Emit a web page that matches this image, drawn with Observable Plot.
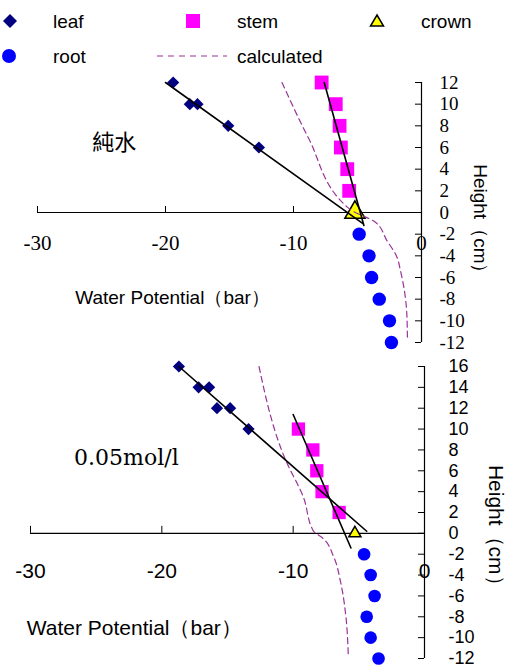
<!DOCTYPE html>
<html><head><meta charset="utf-8">
<script src="https://cdn.jsdelivr.net/npm/d3@7"></script>
<script src="https://cdn.jsdelivr.net/npm/@observablehq/plot@0.6"></script>
<style>
body{margin:0;background:#fff;width:512px;height:670px;position:relative;overflow:hidden;font-family:"Liberation Sans",Arial,sans-serif;}
#legend{position:absolute;left:0;top:0;}
#top{position:absolute;left:0;top:70px;}
#bot{position:absolute;left:0;top:350px;}
</style></head><body>
<div id="legend"></div><div id="top"></div><div id="bot"></div>
<script>
// ---------- data: top panel (純水) ----------
const leafTopX = [-19.4, -18.1, -17.5, -15.1, -12.7];
const leafTopY = [12, 10, 10, 8, 6];
const stemTopX = [-7.8, -6.7, -6.4, -6.3, -5.8, -5.65];
const stemTopY = [12, 10, 8, 6, 4, 2];
const crownTopX = [-5.2];
const crownTopY = [0];
const rootTopX = [-4.87, -4.1, -3.9, -3.3, -2.5, -2.35];
const rootTopY = [-2, -4, -6, -8, -10, -12];
const calcTopX = [-10.9, -8.8, -5.8, -5.0, -4.4, -3.6, -2.7, -2.0, -1.6, -1.3, -1.15, -1.1];
const calcTopY = [12, 6.8, 0.5, -0.1, -0.4, -0.9, -2.6, -3.9, -5.6, -7.5, -9.3, -11.5];
const leafFitTopX = [-20, -4.6];
const leafFitTopY = [12, -1.0];
const stemFitTopX = [-7.6, -4.5];
const stemFitTopY = [12, -1.2];
const yTicksTop = [12, 10, 8, 6, 4, 2, 0, -2, -4, -6, -8, -10, -12];

// ---------- data: bottom panel (0.05mol/l) ----------
const leafBotX = [-18.7, -17.2, -16.4, -15.8, -14.8, -13.4];
const leafBotY = [16, 14, 14, 12, 12, 10];
const stemBotX = [-9.6, -8.5, -8.2, -7.8, -6.5];
const stemBotY = [10, 8, 6, 4, 2];
const crownBotX = [-5.3];
const crownBotY = [0];
const rootBotX = [-4.6, -4.1, -3.8, -4.4, -4.1, -3.5];
const rootBotY = [-2, -4, -6, -8, -10, -12];
const calcBotX = [-12.6, -10.6, -9.2, -8.45, -7.8, -6.9, -6.4, -6.0, -5.8];
const calcBotY = [16, 7.1, 3.4, 0.2, -0.4, -2.3, -4.6, -7.8, -11.8];
const leafFitBotX = [-18.7, -4.4];
const leafFitBotY = [16, 0.2];
const stemFitBotX = [-10.0, -5.6];
const stemFitBotY = [11.4, -1.4];
const yTicksBot = [16, 14, 12, 10, 8, 6, 4, 2, 0, -2, -4, -6, -8, -10, -12];

const xTicks = [-30, -20, -10, 0];
const xTitle = "Water Potential（bar）";
const yTitle = "Height（cm）";
const labelTop = "純水";
const labelBot = "0.05mol/l";

const zip = (xs, ys) => xs.map((x, i) => ({x, y: ys[i]}));

const COL = {leaf: "#000080", stem: "#FF00FF", crown: "#FFFF00", root: "#0000FF", calc: "#993399"};
const SANS = "'Liberation Sans', Arial, sans-serif";
const SERIF = "'Liberation Serif', 'Times New Roman', serif";

function panel(o) {
  return Plot.plot({
    width: 512, height: o.height,
    marginLeft: o.ml, marginRight: o.mr, marginTop: o.mt, marginBottom: o.mb,
    x: {domain: [-30, 0], axis: null},
    y: {domain: o.ydomain, axis: null},
    style: {overflow: "visible", background: "transparent"},
    marks: [
      // axes
      Plot.ruleY([0], {x1: -30, x2: 0, stroke: "black", strokeWidth: 1.2}),
      Plot.ruleX([0], {y1: o.ydomain[0], y2: o.ydomain[1], stroke: "black", strokeWidth: 1.2}),
      Plot.ruleX(xTicks, {x: d => d, y1: 0, y2: o.xtl, stroke: "black"}),
      Plot.ruleY(o.yTicks, {y: d => d, x1: -o.ytl, x2: 0, stroke: "black"}),
      Plot.text(xTicks, {x: d => d, y: 0, dy: o.xdy, text: d => String(d), fontFamily: o.tickFont, fontSize: o.xfs, fill: "black"}),
      Plot.text(o.yTicks, {x: 0, y: d => d, dx: o.ydx, text: d => String(d), textAnchor: "start", fontFamily: o.ytickFont, fontSize: o.yfs, fill: "black"}),
      // data marks
      Plot.dot(zip(o.leafX, o.leafY), {x: "x", y: "y", symbol: "diamond2", r: o.rLeaf, fill: COL.leaf}),
      Plot.dot(zip(o.stemX, o.stemY), {x: "x", y: "y", symbol: "square", r: o.rStem, fill: COL.stem}),
      Plot.dot(zip(o.rootX, o.rootY), {x: "x", y: "y", symbol: "circle", r: o.rRoot, fill: COL.root}),
      Plot.dot(zip(o.crownX, o.crownY), {x: "x", y: "y", symbol: "triangle", r: o.rCrown, fill: COL.crown, stroke: "black", strokeWidth: 1.5}),
      Plot.line(zip(o.calcX, o.calcY), {x: "x", y: "y", stroke: COL.calc, strokeWidth: 1.2, strokeDasharray: "6,4", curve: "monotone-y"}),
      Plot.line(zip(o.leafFitX, o.leafFitY), {x: "x", y: "y", stroke: "black", strokeWidth: 1.6}),
      Plot.line(zip(o.stemFitX, o.stemFitY), {x: "x", y: "y", stroke: "black", strokeWidth: 1.6}),
      // annotations
      Plot.text([o.label], {x: o.labelPos[0], y: o.labelPos[1], text: d => d, fontFamily: o.labelFont, fontSize: o.labelFs, fill: "black"}),
      Plot.text([xTitle], {x: o.xTitlePos[0], y: o.xTitlePos[1], text: d => d, fontFamily: SANS, fontSize: o.titleFs, fill: "black"}),
      Plot.text([yTitle], {x: o.yTitlePos[0], y: o.yTitlePos[1], text: d => d, rotate: 90, fontFamily: SANS, fontSize: o.titleFs, fill: "black"})
    ]
  });
}

document.getElementById("top").append(panel({
  height: 280, ml: 37, mr: 91, mt: 12, mb: 8, ydomain: [-12, 12], yTicks: yTicksTop,
  xtl: 0.55, ytl: 0.47, xdy: 31, ydx: 18, tickFont: SERIF, ytickFont: SERIF, xfs: 21, yfs: 19,
  leafX: leafTopX, leafY: leafTopY, stemX: stemTopX, stemY: stemTopY, rootX: rootTopX, rootY: rootTopY,
  crownX: crownTopX, crownY: crownTopY, calcX: calcTopX, calcY: calcTopY,
  leafFitX: leafFitTopX, leafFitY: leafFitTopY, stemFitX: stemFitTopX, stemFitY: stemFitTopY,
  rLeaf: 5.5, rStem: 7.8, rRoot: 6.7, rCrown: 7.5,
  label: labelTop, labelPos: [-24.0, 6.4], labelFont: "'Noto Sans CJK TC', sans-serif", labelFs: 22,
  xTitlePos: [-19.45, -7.85], yTitlePos: [4.6, -1.0], titleFs: 19
}));

document.getElementById("bot").append(panel({
  height: 320, ml: 30, mr: 88, mt: 16, mb: 12, ydomain: [-12, 16], yTicks: yTicksBot,
  xtl: 0.67, ytl: 0.46, xdy: 38, ydx: 24, tickFont: SANS, ytickFont: SANS, xfs: 21, yfs: 18,
  leafX: leafBotX, leafY: leafBotY, stemX: stemBotX, stemY: stemBotY, rootX: rootBotX, rootY: rootBotY,
  crownX: crownBotX, crownY: crownBotY, calcX: calcBotX, calcY: calcBotY,
  leafFitX: leafFitBotX, leafFitY: leafFitBotY, stemFitX: stemFitBotX, stemFitY: stemFitBotY,
  rLeaf: 5.5, rStem: 7.5, rRoot: 6.3, rCrown: 4.5,
  label: labelBot, labelPos: [-22.7, 7.2], labelFont: "'DejaVu Serif', serif", labelFs: 22,
  xTitlePos: [-22.1, -9.06], yTitlePos: [5.4, 0.3], titleFs: 21
}));

// ---------- legend ----------
const legendItems = ["leaf", "stem", "crown", "root", "calculated"];
document.getElementById("legend").innerHTML = `
<svg width="512" height="70" xmlns="http://www.w3.org/2000/svg" font-family="Liberation Sans, Arial, sans-serif" font-size="19">
  <path d="M10,14 L17,21 L10,28 L3,21 Z" fill="${COL.leaf}"/>
  <text x="53" y="28">${legendItems[0]}</text>
  <rect x="186" y="14" width="14" height="14" fill="${COL.stem}"/>
  <text x="237" y="28">${legendItems[1]}</text>
  <path d="M377,15 L383.5,26 L370.5,26 Z" fill="${COL.crown}" stroke="black" stroke-width="1.5"/>
  <text x="421" y="28">${legendItems[2]}</text>
  <circle cx="9" cy="56" r="7" fill="${COL.root}"/>
  <text x="53" y="63">${legendItems[3]}</text>
  <line x1="157" y1="56" x2="227" y2="56" stroke="${COL.calc}" stroke-width="1.2" stroke-dasharray="6,5"/>
  <text x="237" y="63">${legendItems[4]}</text>
</svg>`;
</script>
</body></html>
